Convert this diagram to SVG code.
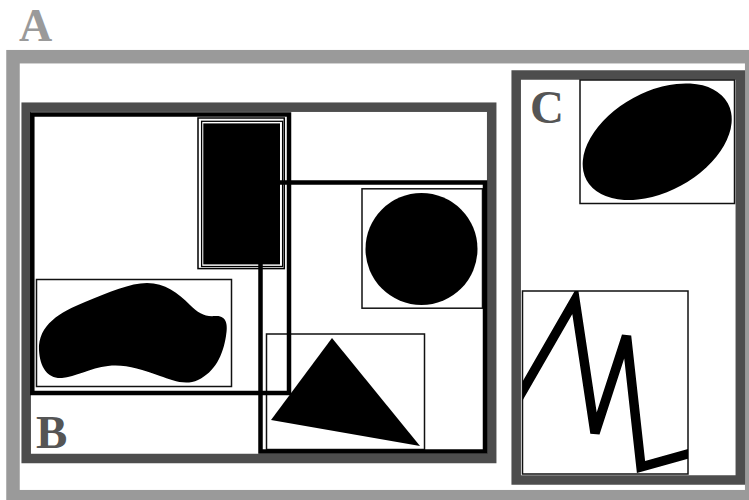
<svg xmlns="http://www.w3.org/2000/svg" width="749" height="500" viewBox="0 0 749 500">
<style>
.lbl{font-family:"Liberation Serif","Times New Roman",serif;font-weight:bold;font-size:47px}
.box{fill:#fff;stroke:#111;stroke-width:1.5}
.frameA{fill:#fff;stroke:#9a9a9a;stroke-width:13.5}
.frameD{fill:#fff;stroke:#4d4d4d;stroke-width:9.5}
.outline{fill:none;stroke:#000;stroke-width:4.5}
</style>
<defs>
<clipPath id="zzclip"><rect x="522.5" y="291" width="165.5" height="183"/></clipPath>
</defs>
<rect width="749" height="500" fill="#fff"/>
<g id="A">
<rect class="frameA" x="13" y="56.7" width="738.7" height="440"/>
<text class="lbl" x="19" y="41" fill="#9a9a9a" style="font-size:46px">A</text>
</g>
<g id="B">
<rect class="frameD" x="26.2" y="107.2" width="465.5" height="351.3"/>
<text class="lbl" x="36" y="447.5" fill="#555">B</text>
</g>
<g id="C">
<rect class="frameD" x="516.2" y="75" width="224.1" height="405"/>
<text class="lbl" x="530" y="122.5" fill="#555">C</text>
</g>
<g id="blob-node">
<rect class="box" x="36.5" y="279.5" width="195" height="107"/>
<path d="M39,350 C38,325 60,312 85,302 C110,292 130,283 147,283 C165,283 178,293 190,305 C198,313 205,317 215,316 C227,315 228,325 226,336 C223,355 215,372 198,380 C185,386 172,380 160,376 C140,369 125,364 108,366 C90,368 75,377 62,378 C48,379 40,368 39,350 Z" fill="#000"/>
</g>
<g id="rect-node">
<rect x="198" y="118" width="86.3" height="150.6" fill="#fff" stroke="#000" stroke-width="1.5"/>
<rect x="201.6" y="121.3" width="81" height="145.2" fill="none" stroke="#000" stroke-width="1.3"/>
<rect x="203.3" y="123.4" width="76.7" height="141" fill="#000"/>
</g>
<g id="circle-node">
<rect class="box" x="362" y="188.8" width="120.5" height="119.4"/>
<circle cx="421.5" cy="249" r="56" fill="#000"/>
</g>
<g id="triangle-node">
<rect class="box" x="266.5" y="334" width="158" height="115.5"/>
<polygon points="332,338 271,420 420,446" fill="#000"/>
</g>
<g id="ellipse-node">
<rect class="box" x="580" y="80" width="154.5" height="123.5"/>
<ellipse cx="657.2" cy="141.7" rx="80.4" ry="49.9" transform="rotate(-28.6 657.2 141.7)" fill="#000"/>
</g>
<g id="zigzag-node">
<rect class="box" x="522.5" y="291" width="165.5" height="183"/>
<polyline clip-path="url(#zzclip)" points="518,399 575,300 595,433 626.5,336 641,467 695,452" fill="none" stroke="#000" stroke-width="9.5"/>
</g>
<g id="connectors">
<rect class="outline" x="32.3" y="114.5" width="256.7" height="278.5"/>
<rect class="outline" x="260.5" y="182.5" width="224.5" height="269"/>
</g>
</svg>
